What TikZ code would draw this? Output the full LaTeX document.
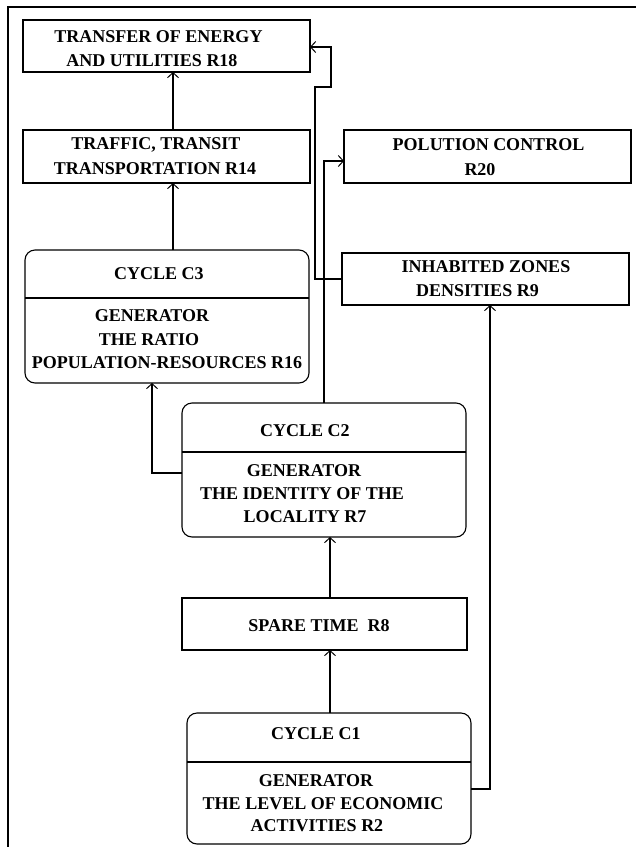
\documentclass[tikz,border=0pt]{standalone}
\usepackage{fontspec}
\setmainfont{Liberation Serif}
\usetikzlibrary{arrows.meta}
\begin{document}
\begin{tikzpicture}[x=1pt,y=-1pt,
  box/.style={draw, line width=1.1pt, inner sep=0pt, outer sep=0pt},
  cyc/.style={box, rounded corners=10pt},
  lbl/.style={anchor=base, inner sep=0pt, font=\bfseries\fontsize{18}{22}\selectfont},
  arr/.style={line width=1.1pt, -{Straight Barb[length=5pt,width=11pt,line width=1pt]}},
  ln/.style={line width=1.1pt}]
\useasboundingbox (0,0) rectangle (636,847);
% frame edges
\draw[ln] (8,847) -- (8,7) -- (636,7);

% rectangular boxes (centre, width, height)
\node[box, minimum width=287pt, minimum height=52pt] (r18) at (166.5,46) {};
\node[box, minimum width=287pt, minimum height=53pt] (r14) at (166.5,156.5) {};
\node[box, minimum width=287pt, minimum height=53pt] (r20) at (487.5,156.5) {};
\node[box, minimum width=287pt, minimum height=52pt] (r9)  at (485.5,279) {};
\node[box, minimum width=285pt, minimum height=52pt] (r8)  at (324.5,624) {};

% cycle boxes
\node[cyc, minimum width=284pt, minimum height=133pt] (c3) at (167,316.5) {};
\node[cyc, minimum width=284pt, minimum height=134pt] (c2) at (324,470) {};
\node[cyc, minimum width=284pt, minimum height=131pt] (c1) at (329,778.5) {};
\draw[ln] (c3.west |- 0,298) -- (c3.east |- 0,298);
\draw[ln] (c2.west |- 0,452) -- (c2.east |- 0,452);
\draw[ln] (c1.west |- 0,762) -- (c1.east |- 0,762);

% texts
\node[lbl] (t18a) at (158.5,42) {TRANSFER OF ENERGY};
\node[lbl] (t18b) at (152,66) {AND UTILITIES R18};
\node[lbl] (t14a) at (156,149.5) {TRAFFIC, TRANSIT};
\node[lbl] (t14b) at (155,174.5) {TRANSPORTATION R14};
\node[lbl] (t20a) at (488.5,150) {POLUTION CONTROL};
\node[lbl] (t20b) at (480,175) {R20};
\node[lbl] (t9a)  at (486,272.5) {INHABITED ZONES};
\node[lbl] (t9b)  at (477.5,296) {DENSITIES R9};
\node[lbl] (tc3)  at (159,279.5) {CYCLE C3};
\node[lbl] (tc3a) at (152,321) {GENERATOR};
\node[lbl] (tc3b) at (149,345) {THE RATIO};
\node[lbl] (tc3c) at (167,368) {POPULATION-RESOURCES R16};
\node[lbl] (tc2)  at (305,436) {CYCLE C2};
\node[lbl] (tc2a) at (304,476) {GENERATOR};
\node[lbl] (tc2b) at (302,499.5) {THE IDENTITY OF THE};
\node[lbl] (tc2c) at (305,522.5) {LOCALITY R7};
\node[lbl] (t8)   at (319,631) {SPARE TIME\ \ R8};
\node[lbl] (tc1)  at (316,739.5) {CYCLE C1};
\node[lbl] (tc1a) at (316,786) {GENERATOR};
\node[lbl] (tc1b) at (323,809) {THE LEVEL OF ECONOMIC};
\node[lbl] (tc1c) at (317,831.5) {ACTIVITIES R2};

% connectors
\draw[arr] (r14.north -| 173,0) -- (r18.south -| 173,0);
\draw[arr] (c3.north -| 173,0) -- (r14.south -| 173,0);
\draw[arr] (c2.west |- 0,473) -| (c3.south -| 152,0);
\draw[arr] (r8.north -| 330,0) -- (c2.south -| 330,0);
\draw[arr] (c1.north -| 330,0) -- (r8.south -| 330,0);
\draw[arr] (c2.north -| 324,0) |- (r20.west |- 0,161);
\draw[arr] (r9.west) -| (315,87) -| (331,47) -- (r18.east |- 0,47);
\draw[arr] (c1.east |- 0,789) -| (r9.south -| 490,0);
\end{tikzpicture}
\end{document}
